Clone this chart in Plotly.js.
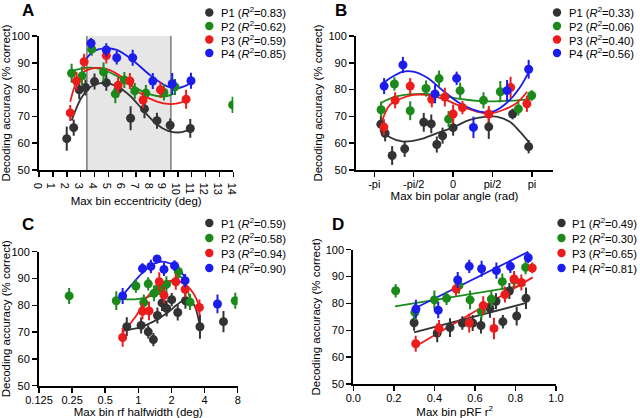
<!DOCTYPE html>
<html>
<head>
<meta charset="utf-8">
<script src="https://cdn.plot.ly/plotly-3.0.1.min.js"></script>
<style>html,body{margin:0;padding:0;background:#fff;}#chart{width:640px;height:418px;}</style>
</head>
<body>
<div id="chart"></div>
<script>
// ---------- Series names / colours ----------
const seriesNames = ['P1', 'P2', 'P3', 'P4'];
const seriesColors = ['#333333', '#1b8a1b', '#ec1c1c', '#1c1cec'];

// ---------- Panel A : eccentricity ----------
const aR2 = ['0.83', '0.62', '0.59', '0.85'];
const aShade = [3.45, 9.5];
const aX_P1 = [2.0, 2.5, 2.9, 3.35, 4.0, 4.85, 5.7, 6.6, 7.6, 8.5, 9.45, 10.9];
const aY_P1 = [61.7, 65.8, 79.9, 80.8, 83.0, 82.6, 80.1, 69.3, 72.8, 68.4, 66.7, 65.5];
const aE_P1 = [4.5, 3, 3.5, 3, 3, 3, 3, 4.5, 3.5, 3, 2.5, 3.5];
const aX_P2 = [2.35, 3.1, 3.8, 4.65, 5.5, 6.15, 6.9, 7.7, 9.0, 9.8, 13.95];
const aY_P2 = [86.1, 85.1, 95.1, 86.6, 78.4, 83.6, 79.5, 78.7, 78.9, 81.0, 74.3];
const aE_P2 = [3.5, 3.5, 2.5, 3.5, 3.5, 3, 3, 3, 3, 3, 3];
const aX_P3 = [2.25, 2.7, 3.25, 4.85, 5.7, 6.55, 7.5, 8.75, 10.6];
const aY_P3 = [71.3, 83.2, 90.4, 92.7, 81.6, 83.2, 76.1, 79.9, 76.4];
const aE_P3 = [3, 3.5, 3, 3, 3, 3, 3, 3, 3.5];
const aX_P4 = [3.75, 4.85, 5.6, 6.75, 8.2, 9.6, 10.95];
const aY_P4 = [97.3, 94.8, 91.9, 91.9, 83.2, 82.2, 83.3];
const aE_P4 = [2, 2.5, 2.5, 3, 3, 4, 3];
// fitted curves
const aFitX_P1 = [2.35, 3.0, 3.5, 4.0, 4.7, 5.5, 6.5, 7.5, 8.5, 9.3, 10.0, 10.6, 11.1];
const aFitY_P1 = [68.5, 76.5, 80.0, 81.8, 82.5, 81.5, 78.0, 72.3, 67.0, 64.6, 64.0, 64.6, 66.0];
const aFitX_P2 = [2.3, 3.0, 3.6, 4.4, 5.6, 6.8, 8.0, 9.0, 9.7];
const aFitY_P2 = [86.7, 87.8, 88.2, 87.7, 85.1, 81.1, 78.2, 77.4, 78.4];
const aFitX_P3 = [2.25, 2.95, 3.7, 4.4, 5.1, 6.1, 7.3, 8.5, 9.45, 10.2, 10.8];
const aFitY_P3 = [75.5, 85.4, 87.7, 88.1, 87.3, 84.2, 78.6, 75.5, 74.6, 75.1, 76.7];
const aFitX_P4 = [3.15, 3.9, 4.75, 5.6, 6.8, 8.0, 9.2, 9.9, 10.5, 10.95];
const aFitY_P4 = [89.6, 94.2, 95.4, 94.8, 90.8, 85.4, 81.3, 80.5, 81.3, 82.6];

// ---------- Panel B : polar angle ----------
const bR2 = ['0.33', '0.06', '0.40', '0.56'];
const bTickText = ['-pi', '-pi/2', '0', 'pi/2', 'pi'];
const bX_P1 = [-2.88, -2.71, -2.43, -1.93, -1.17, -0.87, -0.65, -0.42, 0.0, 1.42, 2.37, 3.01];
const bY_P1 = [67.1, 63.7, 55.4, 57.9, 67.8, 67.2, 59.5, 62.8, 65.8, 66.1, 70.9, 58.7];
const bE_P1 = [3, 3, 3.5, 3, 3.5, 3.5, 3, 3, 3, 4.5, 2, 2.5];
const bX_P2 = [-2.87, -2.34, -1.71, -1.08, -0.56, -0.18, 0.28, 1.21, 1.88, 2.6, 3.13];
const bY_P2 = [72.5, 82.1, 72.1, 80.4, 84.1, 69.0, 79.6, 76.0, 79.2, 72.8, 77.8];
const bE_P2 = [3, 2.5, 3.5, 3, 3, 3, 3, 3, 4, 2.5, 2];
const bX_P3 = [-2.76, -2.31, -1.71, -0.85, -0.33, 0.0, 0.37, 1.42, 2.29, 2.94];
const bY_P3 = [66.0, 76.0, 81.3, 76.4, 77.2, 70.9, 73.3, 70.9, 80.8, 74.7];
const bE_P3 = [3, 3, 3, 3, 3.5, 3.5, 2.5, 3, 4, 3];
const bX_P4 = [-2.75, -2.0, -0.72, 0.14, 0.81, 2.15, 3.01];
const bY_P4 = [81.3, 89.2, 78.4, 84.2, 65.9, 79.6, 87.6];
const bE_P4 = [3, 3, 3.5, 2.5, 4, 4, 3.5];
const bFitX_P1 = [-2.9, -2.52, -1.99, -1.33, -0.66, 0.0, 0.66, 1.33, 1.73, 2.26, 2.66, 3.05];
const bFitY_P1 = [65.5, 62.2, 60.6, 61.4, 63.7, 65.9, 68.7, 69.9, 69.9, 68.0, 64.3, 60.0];
const bFitX_P2 = [-2.9, -2.39, -1.73, -1.06, -0.4, 0.27, 1.06, 1.86, 2.66, 3.08];
const bFitY_P2 = [74.9, 77.1, 78.2, 78.4, 77.7, 76.5, 75.7, 75.7, 76.1, 76.5];
const bFitX_P3 = [-2.82, -2.52, -2.12, -1.59, -1.06, -0.4, 0.27, 0.93, 1.46, 1.99, 2.52, 2.95];
const bFitY_P3 = [68.7, 74.3, 76.5, 78.0, 78.0, 76.5, 73.9, 71.8, 71.1, 72.4, 74.9, 79.2];
const bFitX_P4 = [-2.86, -2.52, -1.99, -1.59, -1.06, -0.4, 0.27, 1.06, 1.59, 2.12, 2.66, 3.05];
const bFitY_P4 = [81.7, 84.2, 86.7, 86.7, 84.6, 79.6, 74.9, 71.8, 71.8, 74.9, 80.8, 87.3];

// ---------- Panel C : rf halfwidth (log2 axis) ----------
const cR2 = ['0.59', '0.58', '0.94', '0.90'];
const cTickVals = [0.125, 0.25, 0.5, 1, 2, 4, 8];
const cTickText = ['0.125', '0.25', '0.5', '1', '2', '4', '8'];
const cX_P1 = [0.785, 1.06, 1.23, 1.37, 1.49, 1.64, 1.81, 2.01, 2.28, 2.68, 3.63, 5.94];
const cY_P1 = [72.0, 72.5, 70.1, 67.2, 76.2, 80.9, 78.8, 82.1, 77.3, 81.7, 72.0, 73.9];
const cE_P1 = [3.5, 3, 2.5, 2.5, 3, 3, 3, 2.5, 3, 3, 4.5, 4];
const cX_P2 = [0.235, 0.63, 0.95, 1.12, 1.23, 1.39, 1.55, 1.8, 2.31, 2.95, 7.6];
const cY_P2 = [83.5, 81.7, 87.2, 81.0, 88.0, 84.5, 86.8, 87.8, 92.6, 81.2, 81.7];
const cE_P2 = [3, 3.5, 2.5, 3, 2.5, 3, 3, 3, 2.5, 3, 3];
const cX_P3 = [0.72, 1.09, 1.25, 1.55, 1.71, 2.19, 2.66, 3.59];
const cY_P3 = [68.0, 77.8, 77.9, 88.8, 83.8, 88.8, 86.0, 79.2];
const cE_P3 = [3.5, 3, 3.5, 3.5, 3, 3, 3, 3];
const cX_P4 = [0.72, 1.09, 1.3, 1.48, 1.71, 2.13, 2.66, 5.24];
const cY_P4 = [83.5, 93.7, 94.5, 97.3, 93.4, 94.8, 89.2, 80.5];
const cE_P4 = [3, 2, 2.5, 1.5, 2.5, 2, 2.5, 3.5];
const cFitX_P1 = [0.784, 1.036, 1.37, 1.81, 2.23, 2.66, 2.95, 3.27, 3.64];
const cFitY_P1 = [70.8, 71.8, 73.9, 77.0, 80.1, 82.2, 82.0, 79.5, 71.8];
const cFitX_P2 = [0.627, 0.84, 1.19, 1.69, 2.08, 2.32, 2.57, 2.95];
const cFitY_P2 = [82.6, 82.2, 83.0, 85.7, 89.7, 90.7, 90.0, 82.0];
const cFitX_P3 = [0.72, 0.966, 1.19, 1.58, 2.08, 2.57, 3.16, 3.58];
const cFitY_P3 = [69.8, 76.4, 82.8, 87.8, 89.2, 88.2, 84.5, 79.5];
const cFitX_P4 = [0.72, 0.90, 1.11, 1.37, 1.63, 1.95, 2.32, 2.72];
const cFitY_P4 = [83.8, 88.4, 92.5, 95.4, 96.3, 95.6, 93.8, 89.4];

// ---------- Panel D : pRF r^2 ----------
const dR2 = ['0.49', '0.30', '0.65', '0.81'];
const dX_P1 = [0.30, 0.414, 0.477, 0.538, 0.589, 0.63, 0.674, 0.704, 0.738, 0.77, 0.806, 0.852];
const dY_P1 = [72.8, 69.0, 71.0, 72.7, 72.7, 71.8, 78.2, 80.8, 73.2, 84.6, 75.3, 81.9];
const dE_P1 = [3, 3.5, 3.5, 2.5, 3, 3, 3.5, 3, 2.5, 3, 3.5, 4];
const dX_P2 = [0.209, 0.304, 0.40, 0.46, 0.521, 0.576, 0.632, 0.681, 0.735, 0.794, 0.85];
const dY_P2 = [84.7, 76.7, 81.3, 81.9, 86.6, 81.3, 77.0, 81.6, 88.1, 88.7, 93.4];
const dE_P2 = [2.5, 3, 3.5, 2.5, 3, 3.5, 3, 3, 3, 2.5, 2.5];
const dX_P3 = [0.308, 0.423, 0.507, 0.572, 0.641, 0.694, 0.748, 0.793, 0.829, 0.883];
const dY_P3 = [65.0, 70.8, 85.4, 72.7, 79.2, 70.7, 83.3, 89.1, 87.8, 93.2];
const dE_P3 = [3, 3, 2.5, 3.5, 3.5, 4, 3, 3, 3, 2];
const dX_P4 = [0.309, 0.419, 0.515, 0.572, 0.633, 0.706, 0.775, 0.863];
const dY_P4 = [77.9, 77.5, 88.7, 93.8, 92.9, 92.2, 93.8, 97.0];
const dE_P4 = [3.5, 3, 3, 2.5, 3, 3, 2.5, 2];
const dFitX_P1 = [0.30, 0.85];
const dFitY_P1 = [69.2, 80.1];
const dFitX_P2 = [0.206, 0.85];
const dFitY_P2 = [78.9, 86.8];
const dFitX_P3 = [0.304, 0.885];
const dFitY_P3 = [63.9, 89.7];
const dFitX_P4 = [0.304, 0.863];
const dFitY_P4 = [78.2, 99.2];

// ---------- build ----------
const W = 640, H = 418;
const px = p => p / W;
const py = p => 1 - p / H;
const FONT = 'Liberation Sans, Arial, Helvetica, sans-serif';

const panels = [
  {ax: '', X: [aX_P1, aX_P2, aX_P3, aX_P4], Y: [aY_P1, aY_P2, aY_P3, aY_P4], E: [aE_P1, aE_P2, aE_P3, aE_P4],
   FX: [aFitX_P1, aFitX_P2, aFitX_P3, aFitX_P4], FY: [aFitY_P1, aFitY_P2, aFitY_P3, aFitY_P4], r2: aR2},
  {ax: '2', X: [bX_P1, bX_P2, bX_P3, bX_P4], Y: [bY_P1, bY_P2, bY_P3, bY_P4], E: [bE_P1, bE_P2, bE_P3, bE_P4],
   FX: [bFitX_P1, bFitX_P2, bFitX_P3, bFitX_P4], FY: [bFitY_P1, bFitY_P2, bFitY_P3, bFitY_P4], r2: bR2},
  {ax: '3', X: [cX_P1, cX_P2, cX_P3, cX_P4], Y: [cY_P1, cY_P2, cY_P3, cY_P4], E: [cE_P1, cE_P2, cE_P3, cE_P4],
   FX: [cFitX_P1, cFitX_P2, cFitX_P3, cFitX_P4], FY: [cFitY_P1, cFitY_P2, cFitY_P3, cFitY_P4], r2: cR2},
  {ax: '4', X: [dX_P1, dX_P2, dX_P3, dX_P4], Y: [dY_P1, dY_P2, dY_P3, dY_P4], E: [dE_P1, dE_P2, dE_P3, dE_P4],
   FX: [dFitX_P1, dFitX_P2, dFitX_P3, dFitX_P4], FY: [dFitY_P1, dFitY_P2, dFitY_P3, dFitY_P4], r2: dR2, linear: true}
];

const traces = [];
panels.forEach(p => {
  const xa = 'x' + p.ax, ya = 'y' + p.ax;
  for (let i = 0; i < 4; i++) {
    traces.push({
      type: 'scatter', mode: 'lines', x: p.FX[i], y: p.FY[i], xaxis: xa, yaxis: ya,
      line: {color: seriesColors[i], width: 1.8, shape: p.linear ? 'linear' : 'spline', smoothing: 1},
      hoverinfo: 'skip', showlegend: false
    });
  }
  for (let i = 0; i < 4; i++) {
    traces.push({
      type: 'scatter', mode: 'markers', name: seriesNames[i], x: p.X[i], y: p.Y[i], xaxis: xa, yaxis: ya,
      marker: {color: seriesColors[i], size: 9, line: {width: 0}},
      error_y: {type: 'data', array: p.E[i], visible: true, color: seriesColors[i], thickness: 2, width: 0},
      showlegend: false
    });
  }
});

const baseAxis = {
  showgrid: false, zeroline: false, showline: true, linecolor: '#000', linewidth: 2,
  ticks: 'outside', ticklen: 5, tickwidth: 1.5, tickcolor: '#000',
  tickfont: {family: FONT, size: 11, color: '#000'}, fixedrange: true
};
const titleFont = {family: FONT, size: 11.5, color: '#000'};
const yAxis = (dom, anchor) => Object.assign({}, baseAxis, {
  domain: dom, anchor: anchor, range: [50, 100], tick0: 50, dtick: 10,
  title: {text: 'Decoding accuracy (% correct)', font: titleFont, standoff: 3}
});
const xAxis = extra => Object.assign({}, baseAxis, {ticklabelstandoff: -2}, extra);

const layout = {
  width: W, height: H, margin: {l: 0, r: 0, t: 0, b: 0},
  paper_bgcolor: '#fff', plot_bgcolor: 'rgba(0,0,0,0)', showlegend: false,
  font: {family: FONT, color: '#000'},
  xaxis: xAxis({domain: [px(39), px(233.3)], anchor: 'y', range: [0, 14], tick0: 0, dtick: 1,
    title: {text: 'Max bin eccentricity (deg)', font: titleFont, standoff: 0}}),
  yaxis: yAxis([py(170), py(36)], 'x'),
  xaxis2: xAxis({domain: [px(356), px(553)], anchor: 'y2', range: [-3.87, 3.98],
    tickvals: [-Math.PI, -Math.PI / 2, 0, Math.PI / 2, Math.PI], ticktext: bTickText,
    title: {text: 'Max bin polar angle (rad)', font: titleFont, standoff: 0}}),
  yaxis2: yAxis([py(170), py(36)], 'x2'),
  xaxis3: xAxis({domain: [px(39), px(237.7)], anchor: 'y3', type: 'log',
    range: [Math.log10(cTickVals[0]), Math.log10(cTickVals[cTickVals.length - 1])],
    tickvals: cTickVals, ticktext: cTickText,
    title: {text: 'Max bin rf halfwidth (deg)', font: titleFont, standoff: 0}}),
  yaxis3: yAxis([py(385.7), py(251.7)], 'x3'),
  xaxis4: xAxis({domain: [px(353.3), px(556)], anchor: 'y4', range: [0, 1], tick0: 0, dtick: 0.2,
    tickformat: '.1f', title: {text: 'Max bin pRF r<sup>2</sup>', font: titleFont, standoff: 0}}),
  yaxis4: yAxis([py(384), py(249.7)], 'x4'),
  shapes: [
    {type: 'rect', xref: 'x', yref: 'y', x0: aShade[0], x1: aShade[1], y0: 50, y1: 100,
     fillcolor: '#e6e6e6', line: {width: 0}, layer: 'below'},
    {type: 'line', xref: 'x', yref: 'y', x0: aShade[0], x1: aShade[0], y0: 50, y1: 100,
     line: {color: '#7a7a7a', width: 1.5}, layer: 'below'},
    {type: 'line', xref: 'x', yref: 'y', x0: aShade[1], x1: aShade[1], y0: 50, y1: 100,
     line: {color: '#7a7a7a', width: 1.5}, layer: 'below'}
  ],
  annotations: []
};

// panel letters
[['A', 28, 10], ['B', 341, 10], ['C', 28, 224], ['D', 338, 224]].forEach(([t, x, y]) => {
  layout.annotations.push({xref: 'paper', yref: 'paper', x: px(x), y: py(y), xanchor: 'center', yanchor: 'middle',
    text: '<b>' + t + '</b>', showarrow: false, font: {family: FONT, size: 17, color: '#000'}});
});

// legends (one per panel)
const legendPos = [
  {mx: 209.3, tx: 219, rows: [12.5, 26, 39.5, 53]},
  {mx: 557, tx: 567, rows: [12.5, 26, 39.5, 53]},
  {mx: 209.3, tx: 219, rows: [223, 238, 253, 268]},
  {mx: 561.5, tx: 570, rows: [223, 238, 253, 268]}
];
panels.forEach((p, k) => {
  const L = legendPos[k];
  for (let i = 0; i < 4; i++) {
    layout.shapes.push({type: 'circle', xref: 'paper', yref: 'paper', xsizemode: 'pixel', ysizemode: 'pixel',
      xanchor: px(L.mx), yanchor: py(L.rows[i]), x0: -4.2, x1: 4.2, y0: -4.2, y1: 4.2,
      fillcolor: seriesColors[i], line: {width: 0}});
    layout.annotations.push({xref: 'paper', yref: 'paper', x: px(L.tx), y: py(L.rows[i]), xanchor: 'left', yanchor: 'middle',
      text: seriesNames[i] + ' (<i>R</i><sup>2</sup>=' + p.r2[i] + ')', showarrow: false,
      font: {family: FONT, size: 11.2, color: '#000'}});
  }
});

Plotly.newPlot('chart', traces, layout, {displayModeBar: false, staticPlot: true});
</script>
</body>
</html>
